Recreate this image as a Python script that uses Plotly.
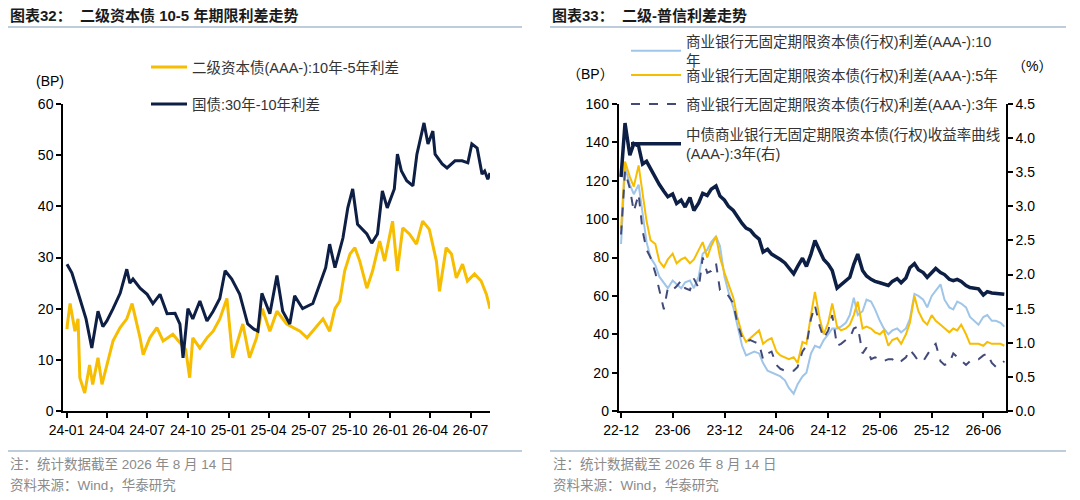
import pandas as pd
import plotly.graph_objects as go

# ---- left chart: 二级资本债 10-5 年期限利差 / 国债 30-10 利差 (BP) ----
l_navy_dates = [
    '2024-01-02', '2024-01-13', '2024-01-31', '2024-02-14', '2024-02-27', '2024-03-12',
    '2024-03-23', '2024-04-01', '2024-04-15', '2024-05-01', '2024-05-16', '2024-05-23',
    '2024-05-30', '2024-06-15', '2024-07-01', '2024-07-14', '2024-07-30', '2024-08-15',
    '2024-09-02', '2024-09-13', '2024-09-20', '2024-10-01', '2024-10-12', '2024-10-28',
    '2024-11-13', '2024-11-27', '2024-12-12', '2024-12-24', '2025-01-08', '2025-01-26',
    '2025-02-13', '2025-02-27', '2025-03-08', '2025-03-17', '2025-04-04', '2025-04-20',
    '2025-05-03', '2025-05-19', '2025-05-30', '2025-06-17', '2025-07-10', '2025-07-26',
    '2025-08-08', '2025-08-17', '2025-08-29', '2025-09-16', '2025-09-27', '2025-10-08',
    '2025-10-19', '2025-11-09', '2025-11-20', '2025-12-03', '2025-12-14', '2025-12-25',
    '2026-01-10', '2026-01-17', '2026-01-26', '2026-02-07', '2026-02-21', '2026-03-02',
    '2026-03-13', '2026-03-18', '2026-03-27', '2026-04-07', '2026-04-12', '2026-04-28',
    '2026-05-09', '2026-05-27', '2026-06-12', '2026-06-25', '2026-07-04', '2026-07-16',
    '2026-07-27', '2026-08-02', '2026-08-09', '2026-08-14',
]
l_navy = [
    28.7, 27.0, 22.0, 18.0, 12.3, 19.5,
    16.5, 17.6, 20.0, 23.0, 27.7, 25.0,
    25.8, 24.0, 22.8, 21.0, 22.8, 19.0,
    19.1, 17.0, 10.4, 20.0, 18.0, 21.5,
    17.6, 19.5, 22.0, 27.4, 25.8, 22.8,
    17.0, 16.0, 15.6, 23.0, 19.0, 26.5,
    19.5, 17.0, 22.5, 20.0, 21.0, 24.8,
    28.0, 32.6, 28.0, 33.8, 39.7, 43.4,
    36.5, 34.6, 32.8, 34.6, 43.0, 39.7,
    43.4, 50.2, 46.9, 45.0, 44.0, 50.2,
    54.0, 56.3, 52.2, 54.7, 50.2, 48.3,
    47.5, 48.9, 48.9, 48.5, 52.2, 51.4,
    46.3, 46.9, 45.3, 46.5,
]

l_gold_dates = [
    '2024-01-02', '2024-01-03', '2024-01-09', '2024-01-20', '2024-01-27', '2024-01-31',
    '2024-02-11', '2024-02-22', '2024-02-29', '2024-03-12', '2024-03-21', '2024-04-01',
    '2024-04-15', '2024-05-01', '2024-05-16', '2024-05-28', '2024-06-15', '2024-06-22',
    '2024-07-07', '2024-07-23', '2024-08-06', '2024-08-28', '2024-09-17', '2024-09-26',
    '2024-10-05', '2024-10-12', '2024-10-28', '2024-11-13', '2024-11-27', '2024-12-12',
    '2024-12-28', '2025-01-10', '2025-02-02', '2025-02-17', '2025-03-05', '2025-03-18',
    '2025-04-04', '2025-04-20', '2025-05-12', '2025-06-11', '2025-06-27', '2025-07-10',
    '2025-08-02', '2025-08-17', '2025-08-29', '2025-09-09', '2025-09-20', '2025-10-02',
    '2025-10-13', '2025-10-24', '2025-11-09', '2025-11-22', '2025-12-08', '2025-12-19',
    '2026-01-06', '2026-01-17', '2026-01-29', '2026-02-13', '2026-03-01', '2026-03-15',
    '2026-03-30', '2026-04-15', '2026-04-22', '2026-05-07', '2026-05-19', '2026-05-30',
    '2026-06-13', '2026-06-24', '2026-07-10', '2026-07-25', '2026-08-06', '2026-08-14',
]
l_gold = [
    16.0, 17.0, 21.0, 15.6, 18.0, 6.5,
    3.5, 9.0, 5.2, 10.4, 5.2, 9.0,
    13.7, 16.3, 18.0, 21.0, 14.3, 11.0,
    14.3, 16.3, 13.7, 15.0, 13.0, 12.0,
    6.5, 14.3, 12.3, 14.3, 15.6, 18.0,
    22.0, 10.4, 17.0, 10.4, 14.3, 20.0,
    15.6, 19.5, 17.0, 15.6, 14.3, 15.6,
    18.0, 15.6, 20.0, 21.5, 27.4, 30.7,
    31.9, 29.3, 24.0, 27.4, 33.2, 29.3,
    37.1, 27.4, 35.8, 34.6, 32.6, 37.1,
    35.5, 29.3, 23.4, 31.9, 30.7, 26.0,
    28.7, 25.4, 26.8, 25.4, 22.8, 20.0,
]

# ---- right chart: 二级-普信利差 (BP) and 3年收益率 (%), half-monthly ----
r_dates = list(pd.date_range('2022-12-01', periods=89, freq='SMS').strftime('%Y-%m-%d')) + ['2026-08-14']

r_10y = [
    87, 127, 118, 113, 118, 102, 88, 80, 76, 70,
    67, 64, 68, 66, 64, 67, 68, 64, 70, 82,
    84, 88, 91, 86, 70, 62, 54, 45, 34, 29,
    30, 31, 30, 25, 21, 20, 19, 18, 16, 12,
    9, 14, 18, 20, 30, 34, 33, 37, 40, 43,
    43, 44, 46, 50, 59, 50, 52, 58, 57, 53,
    47, 43, 40, 42, 43, 41, 43, 48, 61, 60,
    58, 54, 60, 63, 66, 58, 54, 53, 57, 56,
    54, 49, 47, 45, 49, 50, 47, 47, 46, 44,
]
r_5y = [
    95, 130, 122, 117, 128, 113, 99, 89, 87, 78,
    75, 79, 82, 77, 79, 80, 77, 79, 84, 88,
    80, 86, 91, 80, 72, 66, 59, 49, 40, 36,
    38, 40, 42, 35, 37, 38, 31, 29, 28, 27,
    28, 25, 36, 35, 50, 62, 48, 40, 46, 56,
    44, 42, 43, 45, 50, 57, 43, 44, 43, 41,
    40, 42, 34, 37, 38, 35, 40, 46, 60, 52,
    47, 45, 50, 47, 45, 43, 41, 43, 42, 45,
    40, 35, 35, 35, 34, 36, 35, 35, 35, 34,
]
r_3y = [
    92, 125, 116, 104, 113, 94, 84, 80, 72, 63,
    53, 64, 63, 65, 68, 64, 63, 69, 64, 80,
    72, 73, 77, 63, 62, 60, 56, 46, 38, 36,
    37, 36, 35, 27, 30, 31, 24, 22, 21, 21,
    21, 23, 31, 34, 48, 55, 44, 38, 42, 50,
    34, 35, 37, 38, 43, 44, 30, 33, 27, 28,
    27, 26, 27, 27, 25, 26, 28, 32, 29, 26,
    26, 29, 33, 35, 26, 24, 25, 30, 28, 26,
    24, 26, 27, 27, 29, 30, 25, 23, 24, 26,
]
r_yield = [
    3.43, 4.22, 3.75, 3.92, 3.88, 3.62, 3.66, 3.55, 3.43, 3.32,
    3.22, 3.14, 3.18, 3.04, 3.09, 2.99, 3.13, 2.94, 3.05, 3.19,
    3.16, 3.25, 3.30, 3.15, 3.09, 3.00, 2.94, 2.85, 2.75, 2.68,
    2.65, 2.58, 2.52, 2.33, 2.37, 2.30, 2.26, 2.22, 2.17, 2.10,
    2.01, 2.12, 2.24, 2.12, 2.30, 2.50, 2.36, 2.22, 2.15, 2.06,
    1.80, 1.85, 1.90, 1.96, 2.15, 2.30, 2.06, 1.98, 1.93, 1.90,
    1.88, 1.86, 1.84, 1.90, 1.94, 1.88, 1.95, 2.10, 2.16, 2.07,
    2.03, 1.96, 2.04, 2.09, 2.03, 2.00, 1.93, 1.91, 1.93, 1.90,
    1.84, 1.81, 1.80, 1.79, 1.70, 1.75, 1.73, 1.72, 1.72, 1.71,
]

left_names = ['二级资本债(AAA-):10年-5年利差', '国债:30年-10年利差']
right_names = [
    '商业银行无固定期限资本债(行权)利差(AAA-):10<br>年',
    '商业银行无固定期限资本债(行权)利差(AAA-):5年',
    '商业银行无固定期限资本债(行权)利差(AAA-):3年',
    '中债商业银行无固定期限资本债(行权)收益率曲线<br>(AAA-):3年(右)',
]

NAVY = '#0e1f45'
GOLD = '#f7bd00'
LBLUE = '#9fc5e8'
DASH = '#424a7a'
SEP = '#a9bdd1'
FONT = 'Liberation Sans, Arial, Noto Sans CJK SC'

# the page puts the figure 8px in from the corner, so size it to fill the rest
OFF = 8
W, H = 1080 - OFF, 500 - OFF


def px(x):
    return (x - OFF) / W


def py(y):
    return 1 - (y - OFF) / H


fig = go.Figure()

fig.add_trace(go.Scatter(x=l_gold_dates, y=l_gold, name=left_names[0], mode='lines',
                         line=dict(color=GOLD, width=3), xaxis='x', yaxis='y', legend='legend'))
fig.add_trace(go.Scatter(x=l_navy_dates, y=l_navy, name=left_names[1], mode='lines',
                         line=dict(color=NAVY, width=3), xaxis='x', yaxis='y', legend='legend2'))

fig.add_trace(go.Scatter(x=r_dates, y=r_10y, name=right_names[0], mode='lines',
                         line=dict(color=LBLUE, width=2), xaxis='x2', yaxis='y2', legend='legend3'))
fig.add_trace(go.Scatter(x=r_dates, y=r_5y, name=right_names[1], mode='lines',
                         line=dict(color=GOLD, width=2), xaxis='x2', yaxis='y2', legend='legend4'))
fig.add_trace(go.Scatter(x=r_dates, y=r_3y, name=right_names[2], mode='lines',
                         line=dict(color=DASH, width=2, dash='dash'), xaxis='x2', yaxis='y2', legend='legend5'))
fig.add_trace(go.Scatter(x=r_dates, y=r_yield, name=right_names[3], mode='lines',
                         line=dict(color=NAVY, width=3.5), xaxis='x2', yaxis='y3', legend='legend6'))

axis_common = dict(showline=True, linecolor='black', linewidth=1.5, ticks='outside', ticklen=5,
                   tickcolor='black', tickwidth=1.5, showgrid=False, zeroline=False, automargin=False,
                   tickfont=dict(size=14, color='black', family=FONT))

ydom = [py(411), py(104)]

fig.update_layout(
    template='none',
    width=W, height=H,
    margin=dict(l=0, r=0, t=0, b=0, pad=0),
    paper_bgcolor='white', plot_bgcolor='white',
    font=dict(family=FONT, size=14, color='#333333'),
    showlegend=True,
    xaxis=dict(domain=[px(63), px(490)], type='date', range=['2023-12-24', '2026-08-14'],
               tick0='2024-01-01', dtick='M3', tickformat='%y-%m', anchor='y', **axis_common),
    yaxis=dict(domain=ydom, range=[0, 60], dtick=10, anchor='x', **axis_common),
    xaxis2=dict(domain=[px(618.5), px(1006)], type='date', range=['2022-11-22', '2026-08-20'],
                tick0='2022-12-01', dtick='M6', tickformat='%y-%m', anchor='y2', **axis_common),
    yaxis2=dict(domain=ydom, range=[0, 160], dtick=20, anchor='x2', **axis_common),
    yaxis3=dict(range=[0, 4.5], dtick=0.5, tickformat='.1f', overlaying='y2', side='right',
                anchor='x2', **axis_common),
    hovermode=False,
)

# one legend per entry so each line sits where the original has it
legend_style = dict(bgcolor='rgba(0,0,0,0)', borderwidth=0, font=dict(size=14.5, color='#333333', family=FONT),
                    xanchor='left', yanchor='middle', visible=True)
fig.update_layout(
    legend=dict(x=px(146), y=py(67), itemwidth=36, **legend_style),
    legend2=dict(x=px(146), y=py(104), itemwidth=36, **legend_style),
    legend3=dict(x=px(626), y=py(51), itemwidth=50, **legend_style),
    legend4=dict(x=px(626), y=py(75), itemwidth=50, **legend_style),
    legend5=dict(x=px(626), y=py(104), itemwidth=50, **legend_style),
    legend6=dict(x=px(626), y=py(144), itemwidth=50, **legend_style),
)

annotations = [
    dict(text='<b>图表32：\u00a0\u00a0二级资本债 10-5 年期限利差走势</b>', x=px(8), y=py(15),
         font=dict(size=15, color='#1a1a1a')),
    dict(text='<b>图表33：\u00a0\u00a0二级-普信利差走势</b>', x=px(550), y=py(15),
         font=dict(size=15, color='#1a1a1a')),
    dict(text='(BP)', x=px(34), y=py(81), font=dict(size=14, color='black')),
    dict(text='（BP）', x=px(565), y=py(74), font=dict(size=14, color='black')),
    dict(text='（%）', x=px(1010), y=py(66), font=dict(size=14, color='black')),
    dict(text='注：统计数据截至 2026 年 8 月 14 日', x=px(8), y=py(464), font=dict(size=13.5, color='#8a8a8a')),
    dict(text='资料来源：Wind，华泰研究', x=px(8), y=py(485), font=dict(size=13.5, color='#8a8a8a')),
    dict(text='注：统计数据截至 2026 年 8 月 14 日', x=px(551), y=py(464), font=dict(size=13.5, color='#8a8a8a')),
    dict(text='资料来源：Wind，华泰研究', x=px(551), y=py(485), font=dict(size=13.5, color='#8a8a8a')),
]
for a in annotations:
    a.update(xref='paper', yref='paper', xanchor='left', yanchor='middle', showarrow=False)
fig.update_layout(annotations=annotations)

shapes = []
for x0, x1 in [(8, 522), (550, 1066)]:
    for y in (27, 451):
        shapes.append(dict(type='line', xref='paper', yref='paper', x0=px(x0), x1=px(x1),
                           y0=py(y), y1=py(y), line=dict(color=SEP, width=1.5)))
fig.update_layout(shapes=shapes)

fig.write_html('out.html')
